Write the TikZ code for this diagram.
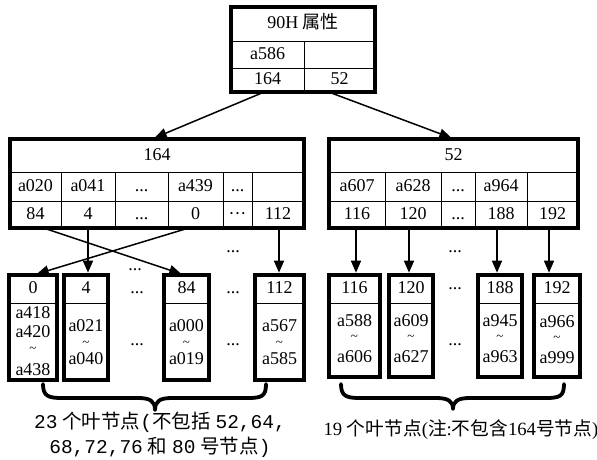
\documentclass[tikz,border=0pt]{standalone}
\usepackage{fontspec}
\setmainfont{Liberation Serif}
\newfontfamily\cjk{Noto Sans CJK SC}
\newfontfamily\mono{Liberation Mono}
\usetikzlibrary{arrows.meta}
\newcommand\mycell[6]{\node[cell, minimum width={(#4)-(#2)}, minimum height={(#5)-(#3)}] (#1) at ({((#2)+(#4))/2},{((#3)+(#5))/2}) {#6};}
\begin{document}
\begin{tikzpicture}[x=1pt,y=-1pt,
  cell/.style={draw, line width=1pt, inner sep=0pt, text height=12.5pt, text depth=3.5pt, font=\fontsize{18}{20}\selectfont},
  border/.style={draw, line width=3.8pt},
  arr/.style={line width=1.5pt, shorten >=1.8pt, -{Triangle[length=12pt,width=10pt]}},
  txt/.style={inner sep=0pt, font=\fontsize{18}{20}\selectfont},
  tl/.style={inner sep=0pt, font=\fontsize{13}{14}\selectfont},
  captext/.style={inner sep=0pt, font=\fontsize{18.7}{26}\selectfont, align=center},
  bracestyle/.style={line width=3.8pt, line cap=round, line join=round}]
\useasboundingbox (0,0) rectangle (597,459);

% ---------- top box ----------
\mycell{t0}{231}{7}{375}{41}{90H {\cjk 属性}}
\mycell{ta}{231}{41}{304}{68}{a586}
\mycell{tb}{304}{41}{375}{68}{}
\mycell{t164}{231}{68}{304}{92}{164}
\mycell{t52}{304}{68}{375}{92}{52}
\draw[border] (231,7) rectangle (375,92);

% ---------- middle left box ----------
\mycell{h164}{10}{139}{304}{172}{164}
\mycell{la1}{10}{172}{61}{201}{a020}
\mycell{la2}{61}{172}{115}{201}{a041}
\mycell{la3}{115}{172}{168}{201}{...}
\mycell{la4}{168}{172}{223}{201}{a439}
\mycell{la5}{223}{172}{252}{201}{...}
\mycell{la6}{252}{172}{304}{201}{}
\mycell{lb1}{10}{201}{61}{228}{84}
\mycell{lb2}{61}{201}{115}{228}{4}
\mycell{lb3}{115}{201}{168}{228}{...}
\mycell{lb4}{168}{201}{223}{228}{0}
\mycell{lb5}{223}{201}{252}{228}{···}
\mycell{lb6}{252}{201}{304}{228}{112}
\draw[border] (10,139) rectangle (304,228);

% ---------- middle right box ----------
\mycell{h52}{329}{139}{578}{172}{52}
\mycell{ra1}{329}{172}{385}{201}{a607}
\mycell{ra2}{385}{172}{441}{201}{a628}
\mycell{ra3}{441}{172}{475}{201}{...}
\mycell{ra4}{475}{172}{527}{201}{a964}
\mycell{ra5}{527}{172}{578}{201}{}
\mycell{rb1}{329}{201}{385}{228}{116}
\mycell{rb2}{385}{201}{441}{228}{120}
\mycell{rb3}{441}{201}{475}{228}{...}
\mycell{rb4}{475}{201}{527}{228}{188}
\mycell{rb5}{527}{201}{578}{228}{192}
\draw[border] (329,139) rectangle (578,228);

% ---------- left leaves ----------
\mycell{l0h}{9}{275}{57}{303}{0}
\mycell{l0b}{9}{303}{57}{380}{}
\draw[border] (9,275) rectangle (57,380);
\node[txt] (l0t1) at (33,313) {a418};
\node[txt] (l0t2) at (33,332) {a420};
\node[tl] (l0t3) at (33,350) {\textasciitilde};
\node[txt] (l0t4) at (33,370) {a438};

\mycell{l4h}{64}{275}{108}{303}{4}
\mycell{l4b}{64}{303}{108}{380}{}
\draw[border] (64,275) rectangle (108,380);
\node[txt] (l4t1) at (86,326) {a021};
\node[tl] (l4t2) at (86,344) {\textasciitilde};
\node[txt] (l4t3) at (86,359) {a040};

\mycell{l84h}{164}{275}{209}{303}{84}
\mycell{l84b}{164}{303}{209}{380}{}
\draw[border] (164,275) rectangle (209,380);
\node[txt] (l84t1) at (186.5,326) {a000};
\node[tl] (l84t2) at (186.5,344) {\textasciitilde};
\node[txt] (l84t3) at (186.5,359) {a019};

\mycell{l112h}{255}{275}{304}{303}{112}
\mycell{l112b}{255}{303}{304}{380}{}
\draw[border] (255,275) rectangle (304,380);
\node[txt] (l112t1) at (279.5,326) {a567};
\node[tl] (l112t2) at (279.5,344) {\textasciitilde};
\node[txt] (l112t3) at (279.5,359) {a585};

% ---------- right leaves ----------
\mycell{r116h}{329}{275}{380}{303}{116}
\mycell{r116b}{329}{303}{380}{377}{}
\draw[border] (329,275) rectangle (380,377);
\node[txt] (r116t1) at (354.5,321) {a588};
\node[tl] (r116t2) at (354.5,338) {\textasciitilde};
\node[txt] (r116t3) at (354.5,357) {a606};

\mycell{r120h}{389}{275}{433}{303}{120}
\mycell{r120b}{389}{303}{433}{377}{}
\draw[border] (389,275) rectangle (433,377);
\node[txt] (r120t1) at (411,321) {a609};
\node[tl] (r120t2) at (411,338) {\textasciitilde};
\node[txt] (r120t3) at (411,357) {a627};

\mycell{r188h}{478}{275}{522}{303}{188}
\mycell{r188b}{478}{303}{522}{377}{}
\draw[border] (478,275) rectangle (522,377);
\node[txt] (r188t1) at (500,321) {a945};
\node[tl] (r188t2) at (500,338) {\textasciitilde};
\node[txt] (r188t3) at (500,357) {a963};

\mycell{r192h}{534}{275}{580}{303}{192}
\mycell{r192b}{534}{303}{580}{377}{}
\draw[border] (534,275) rectangle (580,377);
\node[txt] (r192t1) at (557,322) {a966};
\node[tl] (r192t2) at (557,339) {\textasciitilde};
\node[txt] (r192t3) at (557,358) {a999};

% ---------- dots ----------
\node[txt] (d1) at (233,252) {...};
\node[txt] (d2) at (135,270) {...};
\node[txt] (d3) at (137,293) {...};
\node[txt] (d4) at (233,293) {...};
\node[txt] (d5) at (137,345) {...};
\node[txt] (d6) at (233,345) {...};
\node[txt] (d7) at (455,252) {...};
\node[txt] (d8) at (455,289) {...};
\node[txt] (d9) at (455,345) {...};

% ---------- arrows ----------
\draw[arr] ([xshift=-4.5pt]t164.south) -- ([xshift=-4pt]h164.north);
\draw[arr] ([xshift=-9.5pt]t52.south) -- ([xshift=-0.5pt]h52.north);

\draw[arr] ([xshift=9.5pt]lb1.south) -- ([xshift=-3.5pt]l84h.north);
\draw[arr] ([xshift=-8.5pt]lb4.south) -- ([xshift=2pt]l0h.north);
\draw[arr] (lb2.south) -- (lb2.south |- l4h.north);
\draw[arr] ([xshift=1pt]lb6.south) -- ([xshift=1pt]lb6.south |- l112h.north);

\draw[arr] ([xshift=-1pt]rb1.south) -- ([xshift=-1pt]rb1.south |- r116h.north);
\draw[arr] ([xshift=-4pt]rb2.south) -- ([xshift=-4pt]rb2.south |- r120h.north);
\draw[arr] ([xshift=-4pt]rb4.south) -- ([xshift=-4pt]rb4.south |- r188h.north);
\draw[arr] ([xshift=-3.5pt]rb5.south) -- ([xshift=-3.5pt]rb5.south |- r192h.north);

% ---------- braces ----------
\draw[bracestyle] (43,384) .. controls (43,396) and (48,398) .. (62,398)
  -- (138,398) .. controls (150,398) and (155,401) .. (155,410)
  .. controls (155,401) and (160,398) .. (172,398)
  -- (248,398) .. controls (262,398) and (266,396) .. (266,384);
\draw[bracestyle] (341,384) .. controls (341,396) and (346,398) .. (360,398)
  -- (436,398) .. controls (448,398) and (453,401) .. (453,409)
  .. controls (453,401) and (458,398) .. (470,398)
  -- (546,398) .. controls (560,398) and (564,396) .. (564,384);

% ---------- captions ----------
\node[captext, font=\fontsize{19.5}{25}\selectfont] (capl) at (160,435)
  {{\mono 23} {\cjk 个叶节点}{\mono (}{\cjk 不包括} {\mono 52,64,}\\
   {\mono 68,72,76} {\cjk 和} {\mono 80} {\cjk 号节点}{\mono )}};
\node[captext] (capr) at (461,430)
  {19 {\cjk 个叶节点}({\cjk 注}:{\cjk 不包含}164{\cjk 号节点})};
\end{tikzpicture}
\end{document}
